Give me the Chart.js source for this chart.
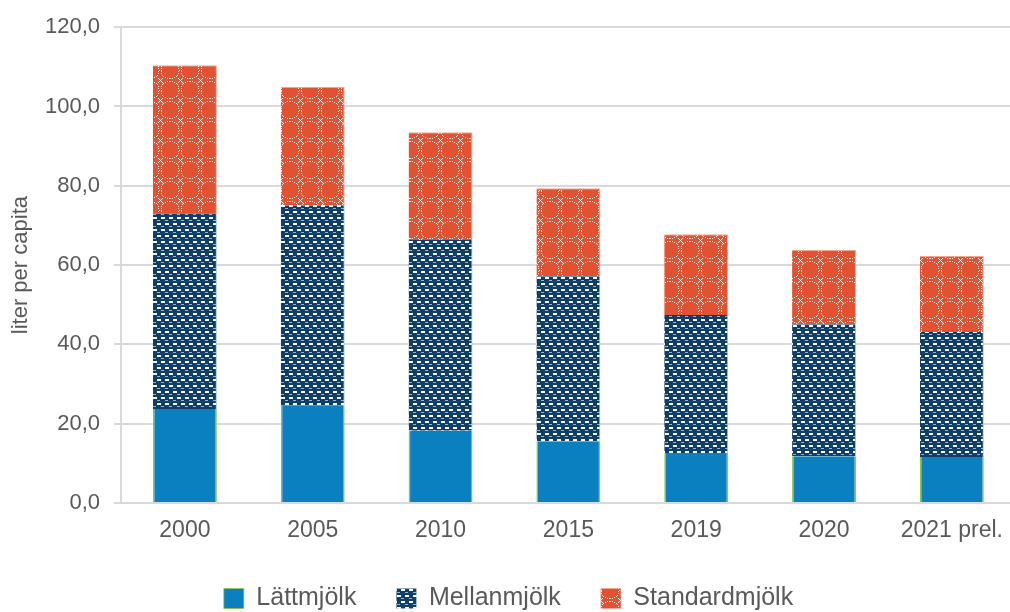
<!DOCTYPE html>
<html>
<head>
<meta charset="utf-8">
<script src="https://cdn.jsdelivr.net/npm/chart.js@4"></script>
<style>
  html, body { margin: 0; padding: 0; background: #ffffff; overflow: hidden; }
  #wrap { width: 1010px; height: 612px; overflow: hidden; }
</style>
</head>
<body>
<div id="wrap"><canvas id="myChart" width="1017" height="621"></canvas></div>
<script>
// categories (x axis)
const years = ["2000", "2005", "2010", "2015", "2019", "2020", "2021 prel."];

// series values, liter per capita
const lattmjolk = [23.7, 24.5, 18.2, 15.6, 12.6, 11.8, 11.6];
const mellanmjolk = [49.4, 50.6, 48.1, 41.6, 34.8, 33.3, 31.5];
const standardmjolk = [37.3, 29.8, 27.2, 22.2, 20.4, 18.7, 19.2];

// y axis ticks
const yTicks = [0, 20, 40, 60, 80, 100, 120];

const fontFamily = "Liberation Sans, Arial, sans-serif";
const textColor = "#595959";
const gridColor = "#d9d9d9";

// pattern for Mellanmjölk: navy with rows of white dashes
const makeMellanPattern = () => {
  const c = document.createElement("canvas");
  c.width = 8;
  c.height = 12;
  const g = c.getContext("2d");
  g.fillStyle = "#0e3f6b";
  g.fillRect(0, 0, 8, 12);
  g.fillStyle = "#ffffff";
  g.fillRect(1, 1, 4, 2);
  g.fillRect(5, 7, 3, 2);
  g.fillRect(0, 7, 1, 2);
  g.fillStyle = "rgba(255,255,255,0.6)";
  g.fillRect(5, 4, 3, 1);
  g.fillRect(1, 10, 3, 1);
  return g.createPattern(c, "repeat");
};

// pattern for Standardmjölk: red with dotted white circle lattice
const makeStandardPattern = () => {
  const s = 20;
  const c = document.createElement("canvas");
  c.width = s;
  c.height = s;
  const g = c.getContext("2d");
  g.fillStyle = "#e05231";
  g.fillRect(0, 0, s, s);
  g.fillStyle = "rgba(255,255,255,0.9)";
  const r = 9;
  for (let i = 0; i < 30; i++) {
    const a = (i / 30) * Math.PI * 2;
    const x = s / 2 + Math.cos(a) * r;
    const y = s / 2 + Math.sin(a) * r;
    g.fillRect(Math.round(x - 0.5), Math.round(y - 0.5), 1, 1);
  }
  // little x marks between four circles (tile corners)
  const corner = [[0, 0], [s, 0], [0, s], [s, s]];
  corner.forEach(([cx, cy]) => {
    for (let d = -2; d <= 2; d++) {
      g.fillRect(cx + d, cy + d, 1, 1);
      g.fillRect(cx + d, cy - d, 1, 1);
    }
  });
  return g.createPattern(c, "repeat");
};

const ctx = document.getElementById("myChart").getContext("2d");
new Chart(ctx, {
  type: "bar",
  data: {
    labels: years,
    datasets: [
      {
        label: "Lättmjölk",
        data: lattmjolk,
        backgroundColor: "#0a80c0",
        borderColor: "#8dc63f",
        borderWidth: { left: 1.5, right: 1.5, top: 0, bottom: 0 },
        categoryPercentage: 0.5,
        barPercentage: 1,
      },
      {
        label: "Mellanmjölk",
        data: mellanmjolk,
        backgroundColor: makeMellanPattern(),
        borderColor: "#9cc3e0",
        borderWidth: { left: 0, right: 1, top: 0, bottom: 0 },
        categoryPercentage: 0.5,
        barPercentage: 1,
      },
      {
        label: "Standardmjölk",
        data: standardmjolk,
        backgroundColor: makeStandardPattern(),
        borderColor: "#f2a58f",
        borderWidth: { left: 0, right: 1, top: 1, bottom: 0 },
        categoryPercentage: 0.5,
        barPercentage: 1,
      },
    ],
  },
  options: {
    responsive: false,
    animation: false,
    layout: { padding: { top: 11, right: 0, left: 0, bottom: 0 } },
    plugins: {
      legend: {
        position: "bottom",
        labels: {
          color: textColor,
          font: { family: fontFamily, size: 25 },
          boxWidth: 20,
          boxHeight: 20,
          padding: 40,
        },
      },
      tooltip: { enabled: false },
    },
    scales: {
      x: {
        stacked: true,
        grid: { display: false, drawTicks: false },
        border: { color: gridColor, width: 2 },
        ticks: {
          color: textColor,
          font: { family: fontFamily, size: 23 },
          padding: 14,
        },
        afterFit: (scale) => {
          scale.height = 43;
        },
      },
      y: {
        stacked: true,
        min: yTicks[0],
        max: yTicks[yTicks.length - 1],
        afterBuildTicks: (axis) => {
          axis.ticks = yTicks.map((v) => ({ value: v }));
        },
        afterFit: (scale) => {
          scale.width = 121;
        },
        grid: { color: gridColor, lineWidth: 2, tickLength: 7 },
        border: { color: gridColor, width: 2 },
        ticks: {
          color: textColor,
          font: { family: fontFamily, size: 22 },
          padding: 14,
          callback: (v) => v.toFixed(1).replace(".", ","),
        },
        title: {
          display: true,
          text: "liter per capita",
          color: textColor,
          font: { family: fontFamily, size: 22 },
          padding: { top: 8, bottom: 9 },
        },
      },
    },
  },
});
</script>
</body>
</html>
